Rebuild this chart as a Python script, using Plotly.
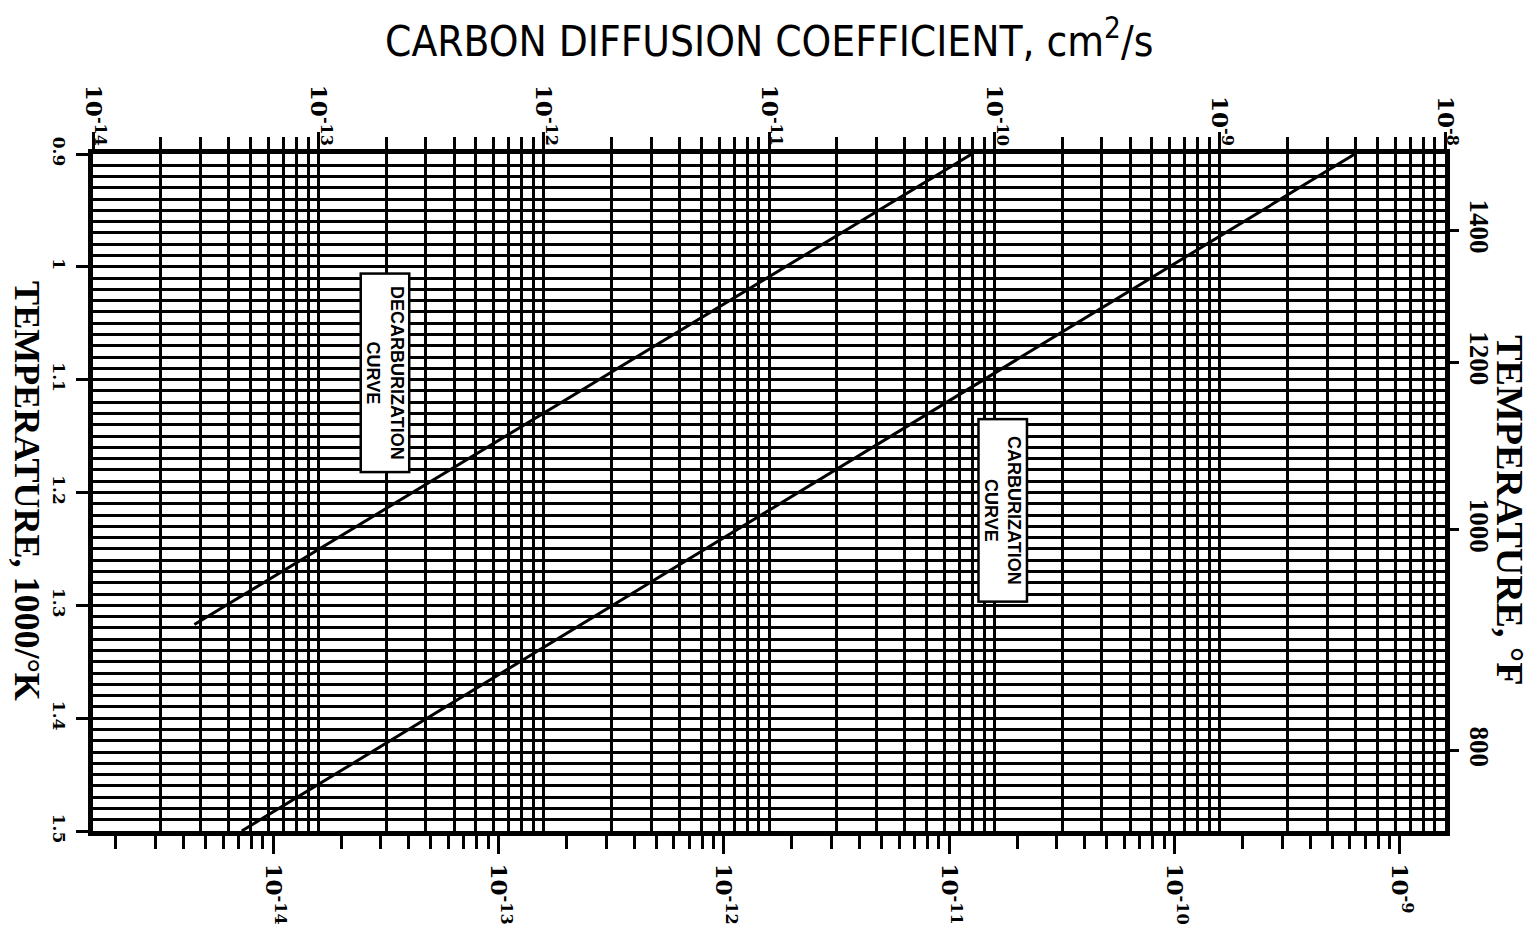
import numpy as np
import plotly.graph_objects as go

# Carbon diffusion coefficient (cm^2/s) against reciprocal temperature (1000/K)
decarb_D = [10 ** -13.55, 10 ** -10.10]
decarb_invT = [1.317, 0.90]
carb_D = [10 ** -13.34, 10 ** -8.40]
carb_invT = [1.50, 0.90]

# Axis labelling
top_exponents = [-14, -13, -12, -11, -10, -9, -8]
bottom_exponents = [-14, -13, -12, -11, -10, -9]
invT_ticks = [0.9, 1.0, 1.1, 1.2, 1.3, 1.4, 1.5]
invT_labels = ["0.9", "1", "1.1", "1.2", "1.3", "1.4", "1.5"]
temp_F = [1400, 1200, 1000, 800]

INK = "black"
SERIF = "Liberation Serif, Times New Roman, serif"
WIDE_SERIF = "DejaVu Serif, serif"
SANS = "Liberation Sans, Arial, sans-serif"
NARROW = "Liberation Sans Narrow, DejaVu Sans Condensed, Arial Narrow, sans-serif"


def log_minors(lo_exp, hi_exp):
    vals = []
    for e in range(lo_exp, hi_exp):
        for m in range(2, 10):
            vals.append(m * 10.0 ** e)
    return vals


def exp_labels(exps):
    return [f"10<sup>{e}</sup>" for e in exps]


# 1000/K positions of the Fahrenheit scale
temp_F_pos = [1000.0 / ((f - 32) * 5.0 / 9.0 + 273.15) for f in temp_F]

fig = go.Figure()
line_style = dict(color=INK, width=3)
fig.add_trace(go.Scatter(x=decarb_D, y=decarb_invT, xaxis="x2", yaxis="y",
                         mode="lines", line=line_style, hoverinfo="skip",
                         showlegend=False))
fig.add_trace(go.Scatter(x=carb_D, y=carb_invT, xaxis="x2", yaxis="y",
                         mode="lines", line=line_style, hoverinfo="skip",
                         showlegend=False))
# keep the secondary scales active
fig.add_trace(go.Scatter(x=[None], y=[None], xaxis="x", yaxis="y",
                         mode="lines", showlegend=False, hoverinfo="skip"))
fig.add_trace(go.Scatter(x=[None], y=[None], xaxis="x2", yaxis="y2",
                         mode="lines", showlegend=False, hoverinfo="skip"))

bottom_minor = [v for v in log_minors(-15, -8) if 10 ** -14.8 <= v <= 10 ** -8.8]
top_minor = log_minors(-14, -8)

exp_font = dict(family=WIDE_SERIF, size=23, color=INK, weight="bold")

fig.update_layout(
    width=1537, height=929,
    margin=dict(l=93, r=92, t=154, b=98, autoexpand=False),
    paper_bgcolor="white", plot_bgcolor="white",
    showlegend=False,
    xaxis=dict(
        type="log", range=[-14.8, -8.8], side="bottom", anchor="y",
        automargin=False,
        showline=True, linewidth=5, linecolor=INK, mirror=False,
        showgrid=False, zeroline=False,
        tickmode="array", tickvals=[10.0 ** e for e in bottom_exponents],
        ticktext=exp_labels(bottom_exponents), tickangle=90,
        ticks="outside", ticklen=18, tickwidth=3, tickcolor=INK,
        ticklabelstandoff=5,
        tickfont=exp_font,
        minor=dict(tickmode="array", tickvals=bottom_minor, ticks="outside",
                   ticklen=13, tickwidth=3, tickcolor=INK, showgrid=False),
    ),
    xaxis2=dict(
        type="log", range=[-14, -8], side="top", anchor="y", overlaying="x",
        automargin=False,
        showline=True, linewidth=5, linecolor=INK,
        showgrid=True, gridcolor=INK, gridwidth=3, zeroline=False,
        tickmode="array", tickvals=[10.0 ** e for e in top_exponents],
        ticktext=exp_labels(top_exponents), tickangle=90,
        ticks="outside", ticklen=17, tickwidth=3, tickcolor=INK,
        ticklabelstandoff=-22,
        tickfont=exp_font,
        minor=dict(tickmode="array", tickvals=top_minor, ticks="outside",
                   ticklen=12, tickwidth=3, tickcolor=INK,
                   showgrid=True, gridcolor=INK, gridwidth=3),
    ),
    yaxis=dict(
        range=[1.5, 0.9], side="left", anchor="x", automargin=False,
        showline=True, linewidth=5, linecolor=INK,
        showgrid=True, gridcolor=INK, gridwidth=3, zeroline=False,
        tickmode="array", tickvals=invT_ticks, ticktext=invT_labels,
        tickangle=90, ticks="outside", ticklen=12, tickwidth=3, tickcolor=INK,
        ticklabelstandoff=3,
        tickfont=dict(family=WIDE_SERIF, size=17, color=INK, weight="bold"),
        minor=dict(tick0=0.9, dtick=0.01, ticks="", showgrid=True,
                   gridcolor=INK, gridwidth=3),
    ),
    yaxis2=dict(
        range=[1.5, 0.9], side="right", anchor="x", overlaying="y",
        automargin=False,
        showline=True, linewidth=5, linecolor=INK,
        showgrid=False, zeroline=False,
        tickmode="array", tickvals=temp_F_pos, ticktext=[str(f) for f in temp_F],
        tickangle=90, ticks="outside", ticklen=9, tickwidth=3, tickcolor=INK,
        tickfont=dict(family=SERIF, size=27, color=INK, weight="bold"),
    ),
)

box = dict(textangle=90, showarrow=False, bgcolor="white", bordercolor=INK,
           borderwidth=2.5, borderpad=3, align="center",
           font=dict(family=SANS, size=18, color=INK, weight="bold"))
fig.add_annotation(text="DECARBURIZATION<br>CURVE", xref="x2", yref="y",
                   x=-12.706, y=1.094, width=190, height=40, **box)
fig.add_annotation(text="CARBURIZATION<br>CURVE", xref="x2", yref="y",
                   x=-9.963, y=1.216, width=174, height=40, **box)

fig.add_annotation(text="CARBON DIFFUSION COEFFICIENT, cm<sup>2</sup>/s",
                   xref="paper", yref="paper", x=0.5, y=1.171,
                   xanchor="center", yanchor="middle", showarrow=False,
                   font=dict(family=NARROW, size=42, color=INK))
fig.add_annotation(text="TEMPERATURE, 1000/°K", xref="paper", yref="paper",
                   x=-0.0488, y=0.502, xanchor="center", yanchor="middle",
                   textangle=90, showarrow=False,
                   font=dict(family=SERIF, size=36, color=INK, weight="bold"))
fig.add_annotation(text="TEMPERATURE, °F", xref="paper", yref="paper",
                   x=1.048, y=0.474, xanchor="center", yanchor="middle",
                   textangle=90, showarrow=False,
                   font=dict(family=SERIF, size=38, color=INK, weight="bold"))

fig.write_html("out.html")
